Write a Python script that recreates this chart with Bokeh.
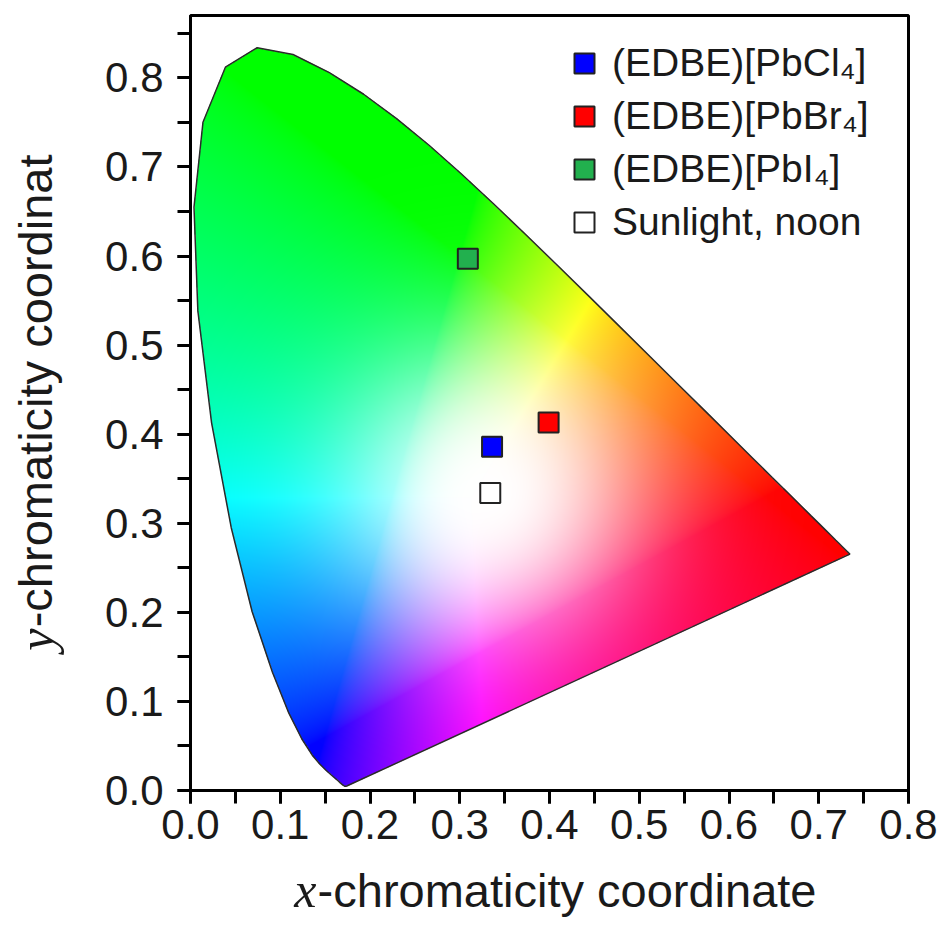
import numpy as np
from bokeh.plotting import figure
from bokeh.models import (Range1d, SingleIntervalTicker, PrintfTickFormatter, Legend,
                          LegendItem, Label, ColumnDataSource)
from bokeh.embed import file_html
from bokeh.resources import INLINE

# --- CIE 1931 2-degree spectral locus (380-700 nm, 5 nm steps) ---
locus_x = [0.1741, 0.1740, 0.1738, 0.1736, 0.1733, 0.1730, 0.1726, 0.1721, 0.1714, 0.1703,
           0.1689, 0.1669, 0.1644, 0.1611, 0.1566, 0.1510, 0.1440, 0.1355, 0.1241, 0.1096,
           0.0913, 0.0687, 0.0454, 0.0235, 0.0082, 0.0039, 0.0139, 0.0389, 0.0743, 0.1142,
           0.1547, 0.1929, 0.2296, 0.2658, 0.3016, 0.3373, 0.3731, 0.4087, 0.4441, 0.4788,
           0.5125, 0.5448, 0.5752, 0.6029, 0.6270, 0.6482, 0.6658, 0.6801, 0.6915, 0.7006,
           0.7079, 0.7140, 0.7190, 0.7230, 0.7260, 0.7283, 0.7300, 0.7311, 0.7320, 0.7327,
           0.7334, 0.7340, 0.7344, 0.7346, 0.7347]
locus_y = [0.0050, 0.0050, 0.0049, 0.0049, 0.0048, 0.0048, 0.0048, 0.0048, 0.0051, 0.0058,
           0.0069, 0.0086, 0.0109, 0.0138, 0.0177, 0.0227, 0.0297, 0.0399, 0.0578, 0.0868,
           0.1327, 0.2007, 0.2950, 0.4127, 0.5384, 0.6548, 0.7502, 0.8120, 0.8338, 0.8262,
           0.8059, 0.7816, 0.7543, 0.7243, 0.6923, 0.6589, 0.6245, 0.5896, 0.5547, 0.5202,
           0.4866, 0.4544, 0.4242, 0.3965, 0.3725, 0.3514, 0.3340, 0.3197, 0.3083, 0.2993,
           0.2920, 0.2859, 0.2809, 0.2770, 0.2740, 0.2717, 0.2700, 0.2689, 0.2680, 0.2673,
           0.2666, 0.2660, 0.2656, 0.2654, 0.2653]

# --- measured chromaticity points ---
samples = ["(EDBE)[PbCl\u2084]", "(EDBE)[PbBr\u2084]", "(EDBE)[PbI\u2084]", "Sunlight, noon"]
cie_x = [0.336, 0.399, 0.309, 0.334]
cie_y = [0.386, 0.413, 0.597, 0.334]
sample_colors = ["#0000ff", "#ff0000", "#22b04e", "#ffffff"]

X0, X1, Y0, Y1 = 0.0, 0.8, 0.0, 0.87
FW, FH = 718, 775

p = figure(frame_width=FW, frame_height=FH, x_range=Range1d(X0, X1), y_range=Range1d(Y0, Y1),
           output_backend="svg", toolbar_location=None,
           min_border_left=190, min_border_right=38, min_border_top=15, min_border_bottom=139)
p.background_fill_color = "white"
p.border_fill_color = "white"
p.grid.visible = False
p.outline_line_color = "black"
p.outline_line_width = 3

# --- chromaticity colour field ---
nx, ny = FW, FH
gx = X0 + (np.arange(nx) + 0.5) / nx * (X1 - X0)
gy = Y0 + (np.arange(ny) + 0.5) / ny * (Y1 - Y0)
GX, GY = np.meshgrid(gx, gy)

vx = np.array(locus_x); vy = np.array(locus_y)
inside = np.zeros(GX.shape, dtype=bool)
j = len(vx) - 1
for i in range(len(vx)):
    xi, yi, xj, yj = vx[i], vy[i], vx[j], vy[j]
    cond = (yi > GY) != (yj > GY)
    denom = (yj - yi) if (yj - yi) != 0 else 1e-12
    xint = (xj - xi) * (GY - yi) / denom + xi
    inside ^= cond & (GX < xint)
    j = i

with np.errstate(divide="ignore", invalid="ignore"):
    Xc = GX / GY
    Zc = (1 - GX - GY) / GY
Yc = np.ones_like(GX)
R = 3.2406 * Xc - 1.5372 * Yc - 0.4986 * Zc
G = -0.9689 * Xc + 1.8758 * Yc + 0.0415 * Zc
B = 0.0557 * Xc - 0.2040 * Yc + 1.0570 * Zc
rgb = np.clip(np.stack([R, G, B], axis=-1), 0, None)
rgb = np.nan_to_num(rgb)
m = rgb.max(axis=-1, keepdims=True)
m[m == 0] = 1
rgb = (rgb / m) ** (1 / 1.5)
# soft white glow round the white point
d = np.sqrt((GX - 0.333) ** 2 + (GY - 0.333) ** 2)
w = np.exp(-(d / 0.16) ** 2)[..., None]
rgb = rgb * (1 - w) + w
rgb = np.clip(rgb, 0, 1)

img = np.zeros((ny, nx), dtype=np.uint32)
view = img.view(dtype=np.uint8).reshape((ny, nx, 4))
view[:, :, 0] = (rgb[:, :, 0] * 255).astype(np.uint8)
view[:, :, 1] = (rgb[:, :, 1] * 255).astype(np.uint8)
view[:, :, 2] = (rgb[:, :, 2] * 255).astype(np.uint8)
view[:, :, 3] = np.where(inside, 255, 0).astype(np.uint8)
p.image_rgba(image=[img], x=X0, y=Y0, dw=X1 - X0, dh=Y1 - Y0)

p.line(locus_x + [locus_x[0]], locus_y + [locus_y[0]], line_color="#2a2a2a", line_width=1.5)

# --- sample points ---
src = ColumnDataSource(dict(x=cie_x, y=cie_y, c=sample_colors, label=samples))
r = p.scatter("x", "y", source=src, marker="square", size=20, fill_color="c",
              line_color="#222222", line_width=2)

items = [LegendItem(label=samples[i], renderers=[r], index=i) for i in range(len(samples))]
legend = Legend(items=items, location=(369, 543), border_line_color=None,
                background_fill_alpha=0, glyph_width=50, glyph_height=50, spacing=3,
                label_standoff=3, padding=0, margin=0,
                label_text_font="Liberation Sans", label_text_font_size="39px",
                label_text_color="#1a1a1a", label_height=50)
p.add_layout(legend)

# --- axes ---
for ax in (p.xaxis[0], p.yaxis[0]):
    ax.ticker = SingleIntervalTicker(interval=0.1, num_minor_ticks=2)
    ax.formatter = PrintfTickFormatter(format="%.1f")
    ax.axis_line_width = 3
    ax.axis_line_color = "black"
    ax.major_tick_line_width = 3
    ax.minor_tick_line_width = 3
    ax.major_tick_line_color = "black"
    ax.minor_tick_line_color = "black"
    ax.major_tick_in = 0
    ax.minor_tick_in = 0
    ax.major_tick_out = 13
    ax.minor_tick_out = 13
    ax.major_label_text_font = "Liberation Sans"
    ax.major_label_text_font_size = "42px"
    ax.major_label_text_color = "#1a1a1a"
p.xaxis[0].major_label_standoff = 6
p.yaxis[0].major_label_standoff = 14

# --- axis titles (italic serif variable + sans text) ---
# held in the bottom / right side panels (so they are not clipped to the frame and do not
# move the frame); positioned through the data scales
p.add_layout(Label(x=0.1404, y=-0.1122, text="x", text_font="Liberation Serif",
                   text_font_style="italic", text_font_size="50px", text_align="right",
                   text_baseline="alphabetic", text_color="#1a1a1a"), "below")
p.add_layout(Label(x=0.1416, y=-0.1122, text="-chromaticity coordinate",
                   text_font="Liberation Sans", text_font_size="47px", text_align="left",
                   text_baseline="alphabetic", text_color="#1a1a1a"), "below")
p.add_layout(Label(x=-0.1727, y=0.1818, text="y", text_font="Liberation Serif",
                   text_font_style="italic", text_font_size="50px", text_align="right",
                   text_baseline="alphabetic", angle=np.pi / 2, text_color="#1a1a1a"), "right")
p.add_layout(Label(x=-0.1727, y=0.1832, text="-chromaticity coordinat",
                   text_font="Liberation Sans", text_font_size="47px", text_align="left",
                   text_baseline="alphabetic", angle=np.pi / 2, text_color="#1a1a1a"), "right")

open("out.html", "w").write(file_html(p, INLINE))
